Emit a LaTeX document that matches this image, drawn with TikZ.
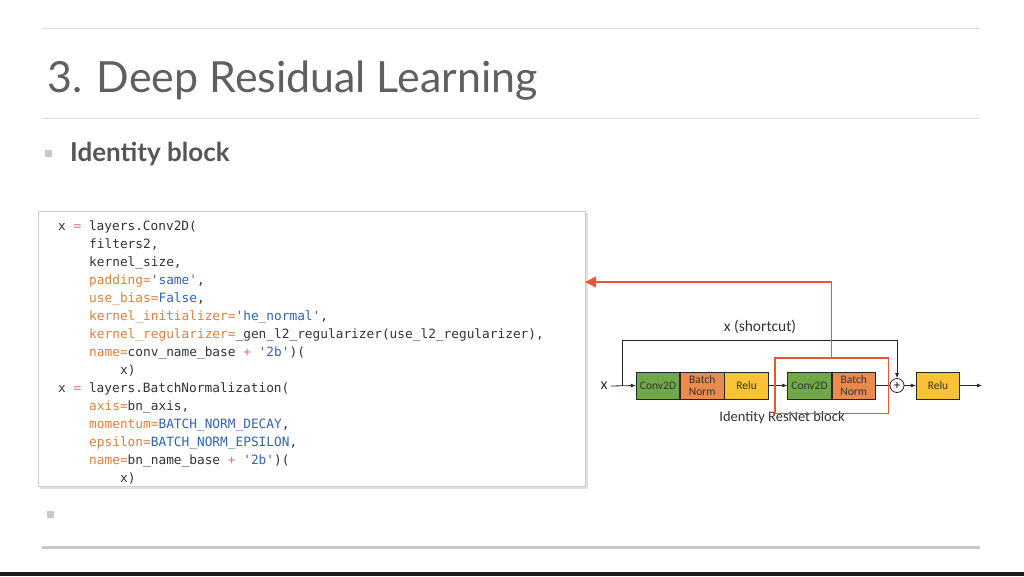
\documentclass[tikz,border=0pt]{standalone}
\usepackage{fontspec}
\setmainfont{Lato}
\newfontfamily\codefont{DejaVu Sans Mono}
\newfontfamily\figfont{Carlito}
\usepackage{xcolor}
\usetikzlibrary{positioning, arrows.meta, fit, calc}
\definecolor{ink}{RGB}{51,51,51}
\definecolor{titlegrey}{RGB}{95,95,95}
\definecolor{subgrey}{RGB}{85,85,85}
\definecolor{rulegrey}{RGB}{222,222,222}
\definecolor{barrgrey}{RGB}{200,200,200}
\definecolor{kword}{RGB}{222,128,60}
\definecolor{sval}{RGB}{50,100,175}
\definecolor{oper}{RGB}{222,110,140}
\definecolor{convgreen}{RGB}{112,168,72}
\definecolor{normorange}{RGB}{233,138,78}
\definecolor{reluyellow}{RGB}{250,195,55}
\definecolor{markred}{RGB}{235,85,55}
\newcommand{\kw}[1]{\textcolor{kword}{#1}}
\newcommand{\sv}[1]{\textcolor{sval}{#1}}
\newcommand{\op}[1]{\textcolor{oper}{#1}}
\newcommand{\q}{\textquotesingle}

\begin{document}
\begin{tikzpicture}[x=1pt, y=-1pt,
    code/.style={anchor=base west, inner sep=0pt, font=\codefont\fontsize{12.8}{15}\selectfont, text=ink},
    layer/.style={draw=black!85, line width=0.8pt, minimum width=43.5pt, minimum height=27pt,
                  inner sep=0pt, align=center, font=\figfont\fontsize{11.5}{12.5}\selectfont, text=ink},
    conv/.style={layer, fill=convgreen},
    norm/.style={layer, fill=normorange},
    relu/.style={layer, fill=reluyellow},
    lab/.style={font=\figfont\fontsize{14.5}{16}\selectfont, text=ink, inner sep=1pt},
    arr/.style={-{Latex[length=5pt, width=4pt]}, line width=0.8pt, draw=black!85},
    wire/.style={line width=0.8pt, draw=black!85},
    redarr/.style={-{Triangle[length=11pt, width=11pt]}, line width=1.6pt, draw=markred},
    bulletsq/.style={fill=barrgrey, minimum size=7pt, inner sep=0pt}
  ]
  \useasboundingbox (0,0) rectangle (1024,576);
  \fill[white] (0,0) rectangle (1024,576);
  \fill[black!90] (0,572) rectangle (1024,576);

  % slide frame
  \draw[rulegrey, line width=1pt] (42,28) -- (980,28);
  \draw[rulegrey, line width=1pt] (42,118) -- (980,118);
  \draw[barrgrey, line width=3pt] (42,547) -- (980,547);
  \node[anchor=base west, inner sep=0pt, text=titlegrey, font=\fontsize{42.9}{50}\selectfont] (title) at (47,92) {3. Deep Residual Learning};
  \node[bulletsq] (dot1) at (48,153) {};
  \node[anchor=base west, inner sep=0pt, text=subgrey, font=\bfseries\fontsize{26}{30}\selectfont] (sub) at (70,161) {Identity block};
  \node[bulletsq] (dot2) at (50,514) {};

  % code listing
  \fill[black!12] (40,213) rectangle (588,489);
  \node[draw=black!20, fill=white, minimum width=547pt, minimum height=275pt, inner sep=0pt] (listing) at (311.5,348.5) {};
  \node[code] (l1)  at (58,230) {x \op{=} layers.Conv2D(};
  \node[code] (l2)  at (89,248) {filters2,};
  \node[code] (l3)  at (89,266) {kernel\_size,};
  \node[code] (l4)  at (89,284) {\kw{padding=}\sv{\q same\q},};
  \node[code] (l5)  at (89,302) {\kw{use\_bias=}\sv{False},};
  \node[code] (l6)  at (89,320) {\kw{kernel\_initializer=}\sv{\q he\_normal\q},};
  \node[code] (l7)  at (89,338) {\kw{kernel\_regularizer=}\_gen\_l2\_regularizer(use\_l2\_regularizer),};
  \node[code] (l8)  at (89,356) {\kw{name=}conv\_name\_base \op{+} \sv{\q 2b\q})(};
  \node[code] (l9)  at (120,374) {x)};
  \node[code] (l10) at (58,392) {x \op{=} layers.BatchNormalization(};
  \node[code] (l11) at (89,410) {\kw{axis=}bn\_axis,};
  \node[code] (l12) at (89,428) {\kw{momentum=}\sv{BATCH\_NORM\_DECAY},};
  \node[code] (l13) at (89,446) {\kw{epsilon=}\sv{BATCH\_NORM\_EPSILON},};
  \node[code] (l14) at (89,464) {\kw{name=}bn\_name\_base \op{+} \sv{\q 2b\q})(};
  \node[code] (l15) at (120,482) {x)};

  % identity block
  \node[lab, inner sep=3pt, font=\figfont\fontsize{16}{18}\selectfont] (xin) at (604,386) {x};
  \node[conv] (cv1) at (658,385.5) {Conv2D};
  \node[norm, right=0pt of cv1] (bn1) {Batch\\Norm};
  \node[relu, right=0pt of bn1] (rl1) {Relu};
  \node[conv] (cv2) at (809.5,385.5) {Conv2D};
  \node[norm, right=0pt of cv2] (bn2) {Batch\\Norm};
  \node[circle, draw=black!85, line width=0.8pt, fill=white, minimum size=14pt, inner sep=0pt,
        font=\fontsize{12}{12}\selectfont] (add) at (897,385.5) {+};
  \node[relu] (rl2) at (938,385.5) {Relu};
  \coordinate (split) at (622,385.5);
  \coordinate (sctop) at (622,340);
  \coordinate (out) at (982,385.5);
  \node[lab, font=\figfont\fontsize{15.5}{17}\selectfont] (sclab) at (760,327) {x (shortcut)};
  \node[lab] (blklab) at (782,418) {Identity ResNet block};

  \draw[arr] (xin.east) -- (cv1.west);
  \draw[arr] (split) -- (sctop) -| (add.north);
  \draw[arr] (rl1) -- (cv2);
  \draw[wire] (bn2) -- (add);
  \draw[arr] (add) -- (rl2);
  \draw[arr] (rl2) -- (out);

  % highlighted part and return arrow
  \node[draw=markred, line width=1.8pt, inner xsep=12.5pt, inner ysep=14pt, fit=(cv2)(bn2)] (focus) {};
  \coordinate (retlvl) at (0,282);
  \draw[redarr] (focus.north) |- (listing.east |- retlvl);
\end{tikzpicture}
\end{document}
